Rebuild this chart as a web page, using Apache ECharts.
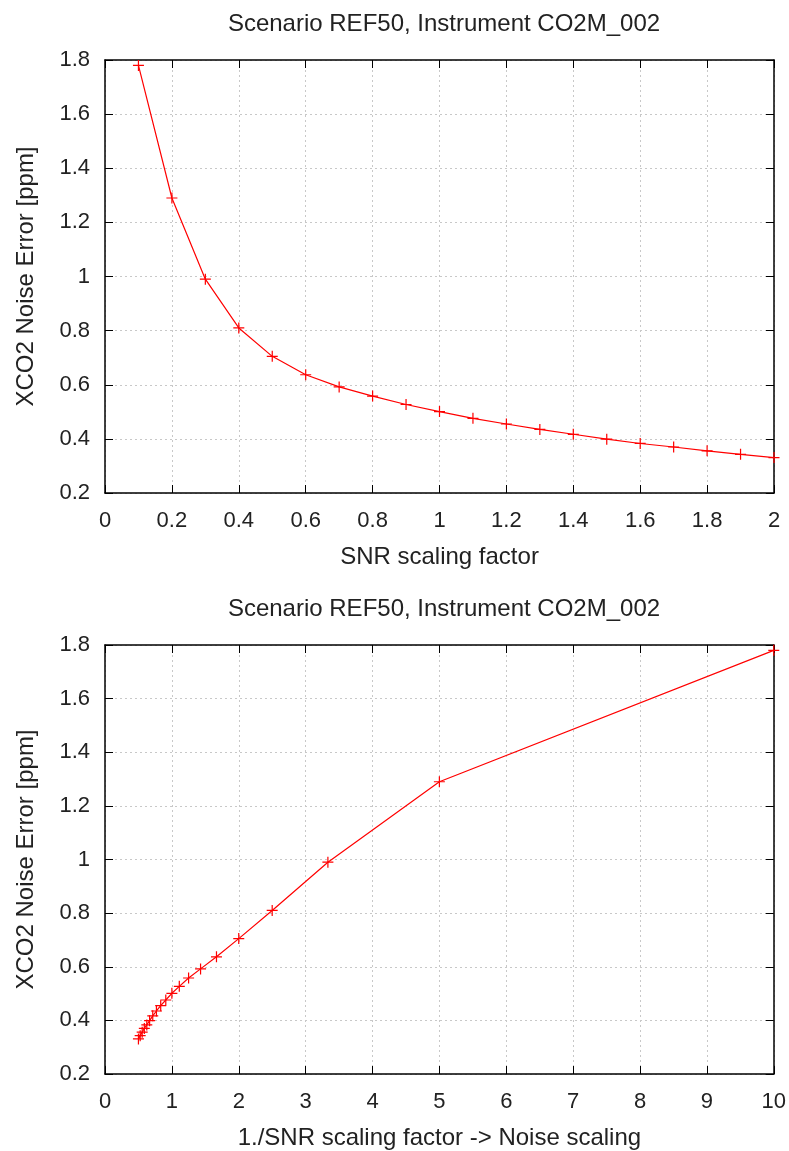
<html>
<head>
<meta charset='utf-8'>
<title>CO2M noise</title>
<script src="https://cdn.jsdelivr.net/npm/echarts@6/dist/echarts.min.js"></script>
<style>
  body { margin: 0; background: #fff; }
  #chart { width: 789px; height: 1151px; }
</style>
</head>
<body>
<div id="chart"></div>
<script type="text/javascript">
// SNR scaling factor (top plot x)
var snr_factor = [0.1, 0.2, 0.3, 0.4, 0.5, 0.6, 0.7, 0.8, 0.9, 1.0,
                  1.1, 1.2, 1.3, 1.4, 1.5, 1.6, 1.7, 1.8, 1.9, 2.0];
// 1./SNR scaling factor (bottom plot x)
var noise_factor = [10, 5, 3.333, 2.5, 2, 1.667, 1.429, 1.25, 1.111, 1.0,
                    0.909, 0.833, 0.769, 0.714, 0.667, 0.625, 0.588, 0.556, 0.526, 0.5];
// XCO2 noise error [ppm]
var xco2_error = [1.78, 1.29, 0.99, 0.81, 0.705, 0.637, 0.592, 0.558, 0.527, 0.501,
                  0.476, 0.455, 0.435, 0.417, 0.399, 0.383, 0.370, 0.356, 0.343, 0.331];

var title_text = 'Scenario REF50, Instrument CO2M_002';
var font = 'Liberation Sans';
var plus = 'path://M4.45,0H5.55V4.45H10V5.55H5.55V10H4.45V5.55H0V4.45H4.45Z';

var grids = [
    {left: 105, top: 60, width: 669, height: 433},
    {left: 105, top: 645, width: 669, height: 433}
];

function mainX(idx, max, interval, name) {
    return {
        type: 'value', gridIndex: idx, min: 0, max: max, interval: interval,
        name: name, nameLocation: 'middle', nameGap: 52,
        nameTextStyle: {fontFamily: font, fontSize: 24, color: '#222'},
        axisLine: {show: true, onZero: false, lineStyle: {color: '#000', width: 1.5}},
        axisTick: {show: true, inside: true, length: 8, lineStyle: {color: '#000'}},
        axisLabel: {fontFamily: font, fontSize: 22, color: '#222', margin: 17},
        splitLine: {show: true, lineStyle: {color: '#c8c8c8', type: [2, 3], width: 1}}
    };
}
function mirrorX(idx, max, interval) {
    return {
        type: 'value', gridIndex: idx, position: 'top', min: 0, max: max, interval: interval,
        axisLine: {show: true, onZero: false, lineStyle: {color: '#000', width: 1.5}},
        axisTick: {show: true, inside: true, length: 8, lineStyle: {color: '#000'}},
        axisLabel: {show: false}, splitLine: {show: false}
    };
}
function mainY(idx) {
    return {
        type: 'value', gridIndex: idx, min: 0.2, max: 1.8, interval: 0.2,
        name: 'XCO2 Noise Error [ppm]', nameLocation: 'middle', nameGap: 67,
        nameTextStyle: {fontFamily: font, fontSize: 24, color: '#222'},
        axisLine: {show: true, onZero: false, lineStyle: {color: '#000', width: 1.5}},
        axisTick: {show: true, inside: true, length: 8, lineStyle: {color: '#000'}},
        axisLabel: {fontFamily: font, fontSize: 22, color: '#222', margin: 15,
                    formatter: function (v) { return String(Math.round(v * 10) / 10); }},
        splitLine: {show: true, lineStyle: {color: '#c8c8c8', type: [2, 3], width: 1}}
    };
}
function mirrorY(idx) {
    return {
        type: 'value', gridIndex: idx, position: 'right', min: 0.2, max: 1.8, interval: 0.2,
        axisLine: {show: true, onZero: false, lineStyle: {color: '#000', width: 1.5}},
        axisTick: {show: true, inside: true, length: 8, lineStyle: {color: '#000'}},
        axisLabel: {show: false}, splitLine: {show: false}
    };
}

function pairs(xs, ys) {
    var out = [];
    xs.forEach(function (x, i) { out.push([x, ys[i]]); });
    return out;
}

var series_style = {
    type: 'line', symbol: plus, symbolSize: 11, showAllSymbol: true,
    lineStyle: {color: '#ff0000', width: 1.2},
    itemStyle: {color: '#ff0000'},
    animation: false
};

var option = {
    backgroundColor: '#fff',
    animation: false,
    title: [
        {text: title_text, left: 439, textAlign: 'center', top: 7,
         textStyle: {fontFamily: font, fontSize: 24, fontWeight: 'normal', color: '#222'}},
        {text: title_text, left: 439, textAlign: 'center', top: 592,
         textStyle: {fontFamily: font, fontSize: 24, fontWeight: 'normal', color: '#222'}}
    ],
    grid: grids,
    xAxis: [
        mainX(0, 2, 0.2, 'SNR scaling factor'),
        mirrorX(0, 2, 0.2),
        mainX(1, 10, 1, '1./SNR scaling factor -> Noise scaling'),
        mirrorX(1, 10, 1)
    ],
    yAxis: [mainY(0), mirrorY(0), mainY(1), mirrorY(1)],
    series: [
        Object.assign({}, series_style, {xAxisIndex: 0, yAxisIndex: 0, data: pairs(snr_factor, xco2_error)}),
        Object.assign({}, series_style, {xAxisIndex: 2, yAxisIndex: 2, data: pairs(noise_factor, xco2_error)})
    ]
};

var chart = echarts.init(document.getElementById('chart'));
chart.setOption(option);
</script>
</body>
</html>
